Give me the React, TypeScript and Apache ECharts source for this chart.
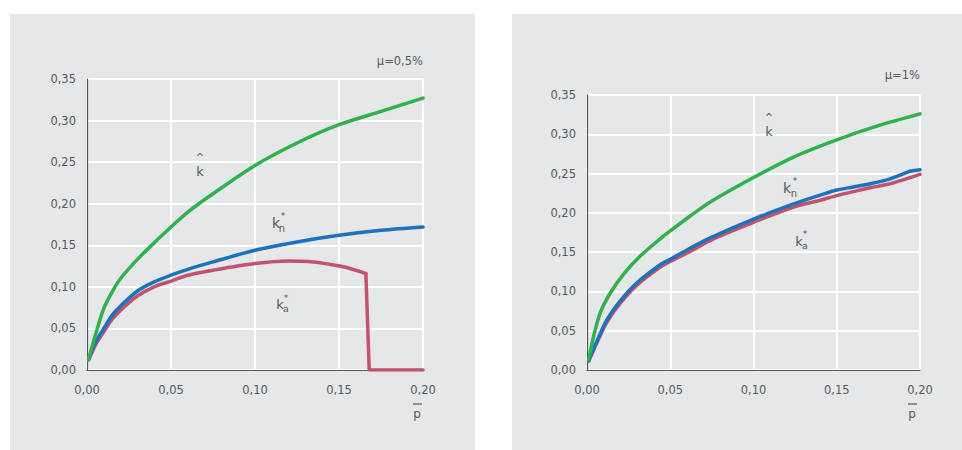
import React, { useEffect, useRef } from "react";
import * as echarts from "echarts";

// ---- Data: left panel (mu = 0.5%) ----
const xHatL = [0.001, 0.005, 0.01, 0.015, 0.02, 0.03, 0.04, 0.05, 0.06, 0.075, 0.1, 0.125, 0.15, 0.175, 0.2];
const yHatL = [0.013, 0.042, 0.074, 0.094, 0.11, 0.133, 0.153, 0.172, 0.19, 0.212, 0.246, 0.273, 0.295, 0.311, 0.327];
const xKnL = [0.001, 0.005, 0.01, 0.015, 0.02, 0.03, 0.04, 0.05, 0.06, 0.075, 0.1, 0.125, 0.15, 0.175, 0.2];
const yKnL = [0.013, 0.033, 0.05, 0.066, 0.077, 0.095, 0.106, 0.114, 0.121, 0.13, 0.144, 0.154, 0.162, 0.168, 0.172];
const xKaL = [0.001, 0.005, 0.01, 0.015, 0.02, 0.03, 0.04, 0.05, 0.06, 0.075, 0.1, 0.12, 0.135, 0.145, 0.155, 0.166, 0.168, 0.2];
const yKaL = [0.012, 0.03, 0.046, 0.061, 0.072, 0.089, 0.1, 0.107, 0.114, 0.12, 0.128, 0.131, 0.13, 0.127, 0.123, 0.116, 0, 0];
const kaDropIndex = 15; // index where the k*_a curve falls vertically to zero

// ---- Data: right panel (mu = 1%) ----
const xHatR = [0.001, 0.004, 0.008, 0.014, 0.022, 0.032, 0.044, 0.05, 0.062, 0.075, 0.1, 0.125, 0.15, 0.175, 0.2];
const yHatR = [0.013, 0.043, 0.073, 0.098, 0.122, 0.145, 0.167, 0.177, 0.196, 0.215, 0.245, 0.272, 0.293, 0.311, 0.326];
const xKnR = [0.001, 0.006, 0.012, 0.02, 0.03, 0.044, 0.05, 0.062, 0.075, 0.1, 0.125, 0.14, 0.15, 0.16, 0.17, 0.18, 0.188, 0.194, 0.2];
const yKnR = [0.012, 0.037, 0.064, 0.088, 0.111, 0.134, 0.141, 0.155, 0.169, 0.192, 0.212, 0.2225, 0.229, 0.233, 0.237, 0.242, 0.248, 0.253, 0.255];
const xKaR = [0.001, 0.006, 0.012, 0.02, 0.03, 0.044, 0.05, 0.062, 0.075, 0.1, 0.125, 0.14, 0.15, 0.16, 0.17, 0.18, 0.19, 0.2];
const yKaR = [0.011, 0.035, 0.061, 0.085, 0.108, 0.131, 0.138, 0.151, 0.166, 0.188, 0.208, 0.216, 0.222, 0.227, 0.232, 0.236, 0.242, 0.249];

const xTicks = [0, 0.05, 0.1, 0.15, 0.2];
const yTicks = [0, 0.05, 0.1, 0.15, 0.2, 0.25, 0.3, 0.35];
const panelTitles = ["μ=0,5%", "μ=1%"];

const GREEN = "#2fb14b";
const BLUE = "#1b72bd";
const RED = "#c1536f";
const TEXT = "#58595b";
const FONT = "DejaVu Sans";

const zip = (xs: number[], ys: number[]) => xs.map((x, i) => [x, ys[i]]);
const fmt = (v: number) => v.toFixed(2).replace(".", ",");

export default function App() {
  const ref = useRef<HTMLDivElement>(null);
  useEffect(() => {
    if (!ref.current) return;
    const chart = echarts.init(ref.current, undefined, { renderer: "svg" });

    const grids = [
      { left: 87, top: 79, width: 336, height: 291 },
      { left: 587, top: 95, width: 333, height: 275 },
    ];

    const xAxisBase = (gi: number) => ({
      type: "value" as const,
      gridIndex: gi,
      min: xTicks[0],
      max: xTicks[xTicks.length - 1],
      interval: 0.05,
      axisLine: { show: true, onZero: false, lineStyle: { color: "#555", width: 1.2 } },
      axisTick: { show: false },
      splitLine: { show: true, lineStyle: { color: "#ffffff", width: 2 } },
      axisLabel: { margin: 14, color: TEXT, fontFamily: FONT, fontSize: 11.5, formatter: fmt },
    });
    const yAxisBase = (gi: number) => ({
      type: "value" as const,
      gridIndex: gi,
      min: yTicks[0],
      max: yTicks[yTicks.length - 1],
      interval: 0.05,
      axisLine: { show: true, onZero: false, lineStyle: { color: "#555", width: 1.2 } },
      axisTick: { show: false },
      splitLine: { show: true, lineStyle: { color: "#ffffff", width: 2 } },
      axisLabel: { margin: 11, color: TEXT, fontFamily: FONT, fontSize: 11.5, formatter: fmt },
    });

    const line = (gi: number, data: number[][], color: string, z: number, smooth: number | boolean = 0.3) => ({
      type: "line" as const,
      xAxisIndex: gi,
      yAxisIndex: gi,
      data,
      showSymbol: false,
      symbol: "none",
      smooth,
      z,
      lineStyle: { color, width: 3.5, cap: "round" as const, join: "round" as const },
    });

    const t = (x: number, y: number, text: string, size: number, extra: any = {}) => ({
      type: "text",
      x,
      y,
      z: 50,
      style: {
        text,
        fill: TEXT,
        font: `${size}px "${FONT}"`,
        textAlign: "center",
        textVerticalAlign: "middle",
        ...extra,
      },
    });

    const kaL = zip(xKaL, yKaL);

    const option: any = {
      animation: false,
      backgroundColor: "#ffffff",
      grid: grids,
      xAxis: [xAxisBase(0), xAxisBase(1)],
      yAxis: [yAxisBase(0), yAxisBase(1)],
      series: [
        line(0, kaL.slice(0, kaDropIndex + 1), RED, 3),
        line(0, kaL.slice(kaDropIndex), RED, 3, false),
        line(0, zip(xKnL, yKnL), BLUE, 4),
        line(0, zip(xHatL, yHatL), GREEN, 5),
        line(1, zip(xKaR, yKaR), RED, 3),
        line(1, zip(xKnR, yKnR), BLUE, 4),
        line(1, zip(xHatR, yHatR), GREEN, 5),
      ],
      graphic: [
        { type: "rect", z: -100, silent: true, shape: { x: 10, y: 14, width: 465, height: 436 }, style: { fill: "#e6e7e8" } },
        { type: "rect", z: -100, silent: true, shape: { x: 512, y: 14, width: 450, height: 436 }, style: { fill: "#e6e7e8" } },
        // panel titles
        t(423, 61, panelTitles[0], 11.5, { textAlign: "right" }),
        t(920, 75, panelTitles[1], 11.5, { textAlign: "right" }),
        // left: k hat
        t(200, 157, "^", 10),
        t(200, 171, "k", 13),
        // left: k*_n
        t(276, 223, "k", 14),
        t(282, 228, "n", 10),
        t(283, 216, "*", 9),
        // left: k*_a
        t(280, 304, "k", 13),
        t(286, 308, "a", 9.5),
        t(286, 298, "*", 9),
        // right: k hat
        t(769, 117, "^", 10),
        t(769, 131, "k", 13),
        // right: k*_n
        t(787, 188, "k", 14),
        t(794, 193, "n", 10),
        t(795, 181, "*", 9),
        // right: k*_a
        t(799, 241, "k", 13),
        t(805, 245, "a", 9.5),
        t(805, 234, "*", 9),
        // x-axis name: p with overline
        t(417, 414, "p", 12),
        { type: "line", z: 50, shape: { x1: 413, y1: 404, x2: 422, y2: 404 }, style: { stroke: TEXT, lineWidth: 1.2 } },
        t(912, 414, "p", 12),
        { type: "line", z: 50, shape: { x1: 908, y1: 404, x2: 917, y2: 404 }, style: { stroke: TEXT, lineWidth: 1.2 } },
      ],
    };
    chart.setOption(option);
    return () => chart.dispose();
  }, []);
  return (
    <div
      ref={ref}
      style={{ position: "fixed", left: 0, top: 0, width: 962, height: 450 }}
    />
  );
}
